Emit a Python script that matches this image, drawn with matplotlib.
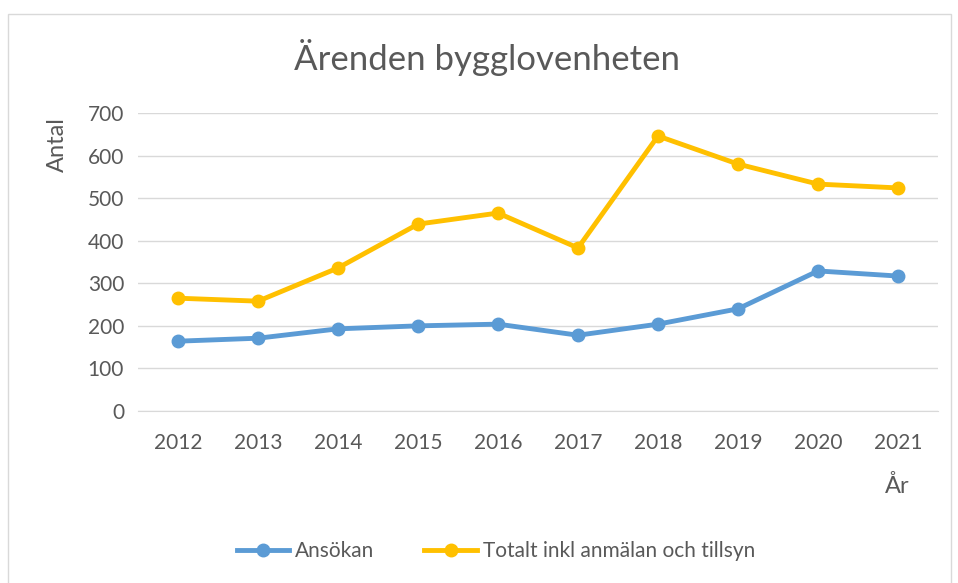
import matplotlib.pyplot as plt
from matplotlib.patches import Rectangle

years = ['2012', '2013', '2014', '2015', '2016', '2017', '2018', '2019', '2020', '2021']
ansokan = [164, 171, 193, 200, 204, 178, 204, 240, 329, 317]
totalt = [265, 258, 336, 439, 465, 383, 646, 580, 533, 524]

plt.rcParams['font.family'] = ['Lato', 'DejaVu Sans']
txt = '#595959'

fig = plt.figure(figsize=(9.58, 5.83), dpi=100)
fig.patches.append(Rectangle((8/958, -0.01), 943/958, 1 - 14/583 + 0.01, transform=fig.transFigure,
                             fill=False, edgecolor='#d9d9d9', linewidth=1))
ax = fig.add_axes([138/958, 1 - 411/583, 800/958, 298/583])

x = range(len(years))
ax.plot(x, ansokan, color='#5B9BD5', lw=3.5, marker='o', ms=9, label='Ansökan')
ax.plot(x, totalt, color='#FFC000', lw=3.5, marker='o', ms=9, label='Totalt inkl anmälan och tillsyn')

ax.set_xlim(-0.5, len(years) - 0.5)
ax.set_ylim(0, 700)
ax.set_yticks(range(0, 701, 100))
ax.set_xticks(list(x))
ax.set_xticklabels(years)
ax.grid(axis='y', color='#d9d9d9', lw=1)
ax.set_axisbelow(True)
for s in ['top', 'right', 'left']:
    ax.spines[s].set_visible(False)
ax.spines['bottom'].set_color('#d9d9d9')
ax.tick_params(length=0, labelsize=15, colors=txt, pad=10)
ax.tick_params(axis='x', pad=16)

fig.text(487/958, 1 - 58/583, 'Ärenden bygglovenheten', ha='center', va='center', fontsize=25, color=txt)
fig.text(57/958, 1 - 145/583, 'Antal', rotation=90, ha='center', va='center', fontsize=17, color=txt)
fig.text(897/958, 1 - 486/583, 'År', ha='center', va='center', fontsize=17, color=txt)

leg = fig.legend(loc='center', bbox_to_anchor=(496/958, 1 - 551/583), ncol=2, frameon=False,
                 fontsize=15, labelcolor=txt, handlelength=2.5, handletextpad=0.3, columnspacing=2.4)

fig.savefig('out.png', dpi=100)
